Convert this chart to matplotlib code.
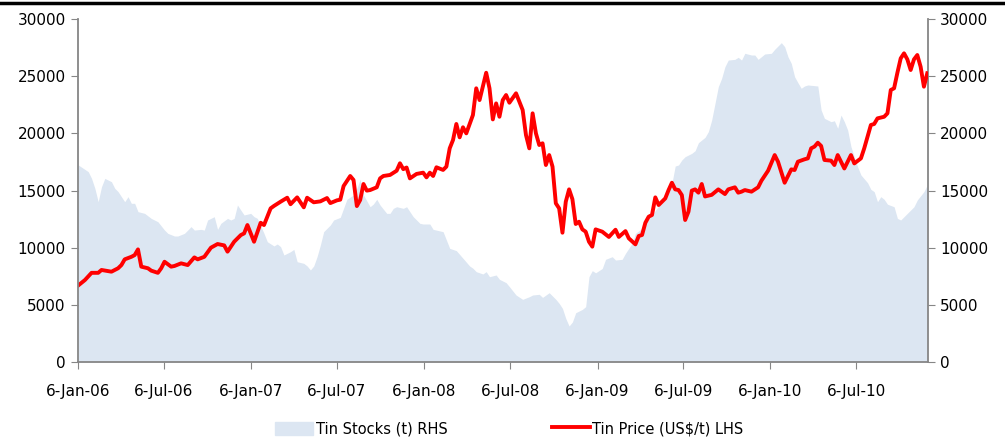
import matplotlib.pyplot as plt
from matplotlib.lines import Line2D
import pandas as pd

# weekly series, weeks counted from 6-Jan-06
start = pd.Timestamp('2006-01-06')

price_week = [0, 2, 4, 6, 7, 10, 12, 13, 14, 16, 17, 18, 19, 21, 22, 24, 25, 26, 28, 29,
              31, 33, 35, 36, 38, 40, 42, 44, 45, 47, 49, 50, 51, 53, 55, 56, 58, 59, 61, 63,
              64, 66, 68, 69, 71, 73, 75, 76, 78, 79, 80, 82, 83, 84, 85, 86, 87, 88, 90, 91,
              92, 94, 96, 97, 98, 99, 100, 102, 104, 105, 106, 107, 108, 110, 111, 112, 113, 114, 115, 116,
              117, 119, 120, 121, 123, 124, 125, 126, 127, 128, 129, 130, 132, 134, 135, 136, 137, 138, 139, 140,
              141, 142, 143, 144, 145, 146, 147, 148, 149, 150, 151, 152, 153, 154, 155, 156, 158, 160, 162, 163,
              165, 166, 168, 169, 170, 171, 172, 173, 174, 175, 177, 178, 179, 180, 181, 182, 183, 184, 185, 186,
              187, 188, 189, 191, 193, 195, 196, 198, 199, 200, 201, 203, 205, 206, 208, 210, 211, 213, 215, 216,
              217, 219, 220, 221, 222, 223, 224, 225, 227, 228, 229, 230, 231, 232, 233, 234, 236, 237, 238, 239,
              240, 241, 243, 244, 245, 246, 247, 248, 249, 250, 251, 252, 253, 254, 255, 256]
price = [6700, 7170, 7800, 7800, 8050, 7900, 8200, 8480, 8980, 9200, 9350, 9850, 8340, 8200, 7990, 7800, 8200, 8770, 8340, 8400,
         8630, 8480, 9150, 8980, 9200, 10000, 10320, 10200, 9650, 10520, 11100, 11250, 11980, 10520, 12180, 11980, 13440, 13650, 14020, 14370,
         13800, 14400, 13530, 14370, 13970, 14050, 14340, 13900, 14140, 14200, 15390, 16270, 15920, 13640, 14170, 15570, 14990, 15040, 15280, 16060,
         16270, 16360, 16730, 17380, 16870, 17010, 16060, 16450, 16560, 16150, 16560, 16270, 17030, 16800, 17090, 18690, 19420, 20820, 19650, 20530,
         20000, 21600, 23940, 22910, 25300, 23940, 21220, 22620, 21450, 22910, 23350, 22680, 23500, 22040, 19850, 18690, 21750, 20000, 18980, 19130,
         17230, 18100, 17090, 13880, 13440, 11310, 14020, 15100, 14240, 12070, 12270, 11600, 11400, 10520, 10090, 11600, 11400, 10940, 11570, 10940,
         11450, 10820, 10290, 11020, 11110, 12180, 12710, 12860, 14400, 13730, 14310, 15040, 15680, 15100, 15040, 14600, 12420, 13150, 14990, 15100,
         14810, 15570, 14480, 14620, 15100, 14690, 15100, 15280, 14810, 14900, 15040, 14900, 15280, 15860, 16730, 18100, 17520, 15680, 16850, 16790,
         17520, 17730, 17810, 18690, 18840, 19180, 18900, 17670, 17610, 17230, 18100, 17520, 16930, 17520, 18100, 17370, 17810, 18690, 19710, 20730,
         20820, 21310, 21450, 21750, 23790, 23940, 25300, 26560, 27000, 26470, 25540, 26470, 26850, 25830, 24080, 25250]

stock_week = [0, 3, 4, 5, 6, 7, 8, 10, 11, 12, 14, 15, 16, 17, 18, 20, 22, 24, 26, 27,
              29, 30, 32, 33, 34, 35, 37, 38, 39, 41, 42, 43, 45, 46, 47, 48, 49, 50, 52, 53,
              54, 56, 57, 59, 60, 61, 62, 64, 65, 66, 68, 69, 70, 71, 72, 73, 74, 76, 77, 79,
              80, 81, 83, 84, 85, 86, 88, 89, 90, 91, 93, 94, 95, 96, 98, 99, 101, 103, 104, 106,
              107, 110, 111, 112, 114, 116, 118, 119, 120, 122, 123, 124, 126, 127, 129, 130, 132, 134, 136, 137,
              139, 140, 142, 144, 145, 146, 147, 148, 149, 150, 152, 153, 154, 155, 156, 158, 159, 161, 162, 164,
              165, 167, 168, 170, 171, 173, 175, 177, 179, 180, 181, 182, 183, 185, 186, 187, 189, 190, 191, 192,
              193, 194, 195, 196, 198, 199, 200, 201, 203, 204, 205, 207, 209, 210, 212, 213, 214, 215, 216, 217,
              218, 219, 220, 223, 224, 225, 227, 228, 229, 230, 231, 232, 233, 235, 236, 238, 239, 240, 241, 242,
              243, 244, 246, 247, 248, 249, 251, 252, 253, 255, 256]
stocks = [17230, 16650, 16060, 15190, 14020, 15330, 16060, 15770, 15190, 14900, 14020, 14460, 13880, 13880, 13150, 13000, 12560, 12270, 11540, 11250,
          11020, 11020, 11250, 11540, 11840, 11540, 11600, 11540, 12420, 12710, 11600, 12130, 12560, 12420, 12560, 13730, 13290, 12860, 13000, 12710,
          12560, 11250, 10520, 10150, 10320, 10090, 9360, 9650, 9850, 8770, 8630, 8400, 8050, 8400, 9210, 10230, 11400, 11980, 12420, 12650,
          13440, 14230, 14610, 15190, 15980, 14610, 13580, 13820, 14230, 13730, 13000, 13000, 13440, 13580, 13440, 13580, 12710, 12130, 12070, 12070,
          11600, 11400, 10670, 9940, 9740, 9070, 8400, 8200, 7900, 7700, 7900, 7460, 7610, 7230, 6940, 6590, 5860, 5480, 5710, 5860,
          5920, 5650, 6060, 5480, 5130, 4690, 3810, 3150, 3500, 4310, 4600, 4840, 7460, 7990, 7800, 8180, 8980, 9210, 8920, 8980,
          9500, 10380, 11250, 11690, 12130, 12860, 13640, 14600, 15620, 17140, 17230, 17670, 17960, 18250, 18480, 19180, 19650, 20150, 21160, 22620,
          24080, 24810, 25830, 26410, 26470, 26650, 26410, 27000, 26850, 26850, 26470, 26940, 27000, 27350, 27930, 27580, 26700, 26120, 24950, 24430,
          23940, 24140, 24230, 24140, 22040, 21310, 21020, 21100, 20440, 21600, 21020, 20290, 18830, 17080, 16360, 15680, 15100, 14900, 14020, 14460,
          14230, 13800, 13580, 12560, 12420, 12710, 13290, 13580, 14170, 14900, 15480]

tick_labels = ['6-Jan-06', '6-Jul-06', '6-Jan-07', '6-Jul-07', '6-Jan-08',
               '6-Jul-08', '6-Jan-09', '6-Jul-09', '6-Jan-10', '6-Jul-10']

price_dates = start + pd.to_timedelta([w * 7 for w in price_week], unit='D')
stock_dates = start + pd.to_timedelta([w * 7 for w in stock_week], unit='D')
tick_dates = pd.to_datetime(tick_labels, format='%d-%b-%y')

plt.rcParams['font.family'] = ['DejaVu Sans']
fig = plt.figure(figsize=(10.05, 4.37), dpi=100)
ax = fig.add_axes([0.0779, 0.1716, 0.8452, 0.7849])
ax2 = ax.twinx()

ax2.fill_between(stock_dates, stocks, 0, color='#dce6f2', lw=0)
ax.plot(price_dates, price, color='#ff0000', lw=2.8, solid_joinstyle='round')

# line on top of the area
ax.set_zorder(ax2.get_zorder() + 1)
ax.patch.set_visible(False)

for a in (ax, ax2):
    a.set_ylim(0, 30000)
    a.set_yticks(range(0, 30001, 5000))
    a.set_xlim(start, pd.Timestamp('2010-12-04'))
    for s in a.spines.values():
        s.set_color('#868686')
        s.set_linewidth(1.3)
    a.spines['top'].set_visible(False)
    a.tick_params(axis='y', direction='out', length=5, color='#868686',
                  labelsize=11, pad=4)

ax.spines['right'].set_visible(False)
ax2.spines['left'].set_visible(False)
ax2.spines['bottom'].set_visible(False)

ax.set_xticks(tick_dates)
ax.set_xticklabels(tick_labels)
ax.tick_params(axis='x', direction='out', length=5, color='#868686',
               labelsize=11, pad=11)

handles = [plt.Rectangle((0, 0), 1, 1, color='#dce6f2'),
           Line2D([], [], color='#ff0000', lw=2.8)]
fig.legend(handles, ['Tin Stocks (t) RHS', 'Tin Price (US$/t) LHS'],
           loc='center', bbox_to_anchor=(0.507, 0.019), ncol=2,
           frameon=False, fontsize=10.5, handlelength=2.6, handleheight=1.0,
           handletextpad=0.15, columnspacing=7.2, borderpad=0, borderaxespad=0)

fig.add_artist(Line2D([0, 1], [0.992, 0.992], transform=fig.transFigure,
                      color='black', lw=2.5))

fig.savefig('out.png', dpi=100)
